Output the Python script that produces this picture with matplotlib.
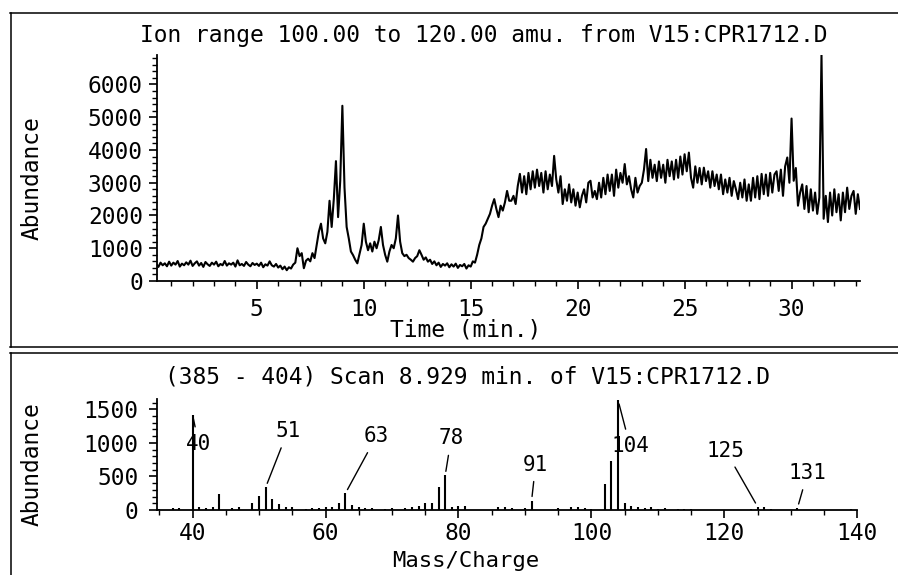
import numpy as np
import matplotlib
matplotlib.use("Agg")
import matplotlib.pyplot as plt
from matplotlib.lines import Line2D
from matplotlib.ticker import MultipleLocator

# ---------------- data ----------------
# Total ion chromatogram (ion range 100-120 amu), sampled every 0.1 min from 0.3 to 33.2 min
tic_time = np.arange(3, 333) / 10.0
tic_abundance = [
    520, 430, 560, 480, 540, 450, 590,
    470, 560, 500, 610, 440, 530, 480, 570, 500, 620,
    460, 540, 600, 470, 550, 430, 580, 510, 460, 560,
    500, 590, 450, 520, 480, 610, 470, 540, 500, 560,
    440, 630, 480, 520, 460, 580, 500, 450, 550, 490,
    530, 460, 560, 420, 510, 470, 600, 480, 440, 520,
    410, 470, 360, 440, 330, 420, 380, 500, 560, 1000,
    760, 850, 390, 620, 680, 600, 850, 700, 1100, 1500,
    1750, 1300, 1150, 1500, 2450, 1650, 2500, 3660, 1950, 3060,
    5350, 2850, 1650, 1300, 900, 790, 650, 540, 820, 1100,
    1750, 1200, 940, 1150, 900, 1200, 1000, 1250, 1650, 1100,
    800, 590, 900, 1100, 1000, 1300, 2000, 1200, 850, 760,
    800, 700, 650, 590, 700, 760, 940, 800, 650, 720,
    590, 650, 520, 600, 480, 560, 430, 520, 470, 540,
    420, 510, 440, 530, 400, 490, 450, 520, 380, 480,
    440, 600, 560, 800, 1100, 1300, 1650, 1750, 1900, 2050,
    2300, 2500, 2200, 1950, 2300, 2150, 2400, 2750, 2450, 2450,
    2600, 2350, 2900, 3270, 2700, 3200, 2650, 3300, 2800, 3350,
    2850, 3400, 2900, 3300, 2700, 3350, 2800, 3250, 2900, 3820,
    3100, 2700, 3200, 2350, 2800, 2450, 2950, 2400, 2800, 2300,
    2700, 2250, 2600, 2800, 2400, 3000, 3060, 2550, 2750, 2500,
    3000, 2550, 3150, 2650, 3250, 2750, 3250, 2600, 3400, 2850,
    3300, 3000, 3570, 2950, 3200, 2800, 2550, 3150, 2700, 2900,
    3000, 3400, 4030, 3050, 3700, 3150, 3550, 3050, 3650, 3150,
    3550, 3000, 3700, 3200, 3650, 3100, 3700, 3150, 3800, 3250,
    3870, 3350, 3920, 3150, 2850, 3500, 3000, 3450, 2950, 3460,
    3050, 3350, 2850, 3350, 2900, 3250, 2800, 3250, 2650, 3100,
    2700, 3150, 2600, 3050, 2800, 2500, 3000, 2550, 3100, 2450,
    2950, 2450, 3150, 2550, 3200, 2500, 3270, 2650, 3250, 2600,
    3300, 2700, 3250, 3350, 2750, 3400, 2600, 3500, 3770, 3000,
    4960, 3060, 3450, 2300, 2700, 2950, 2200, 2900, 2100, 2800,
    2150, 2700, 2050, 2550, 6900, 1900, 2600, 1800, 2700, 2000,
    2800, 2100, 2650, 1850, 2700, 2100, 2850, 2200, 2600, 2750,
    2050, 2650, 2200,
]

# Mass spectrum, scans 385-404 at 8.929 min
ms_mass = [35, 37, 38, 40, 41, 42, 43, 44, 46, 47, 49, 50, 51, 52, 53, 54, 55,
           57, 58, 59, 60, 61, 62, 63, 64, 65, 66, 67, 69, 70, 72, 73, 74, 75,
           76, 77, 78, 79, 80, 81, 86, 87, 88, 90, 91, 95, 97, 98, 99, 100,
           102, 103, 104, 105, 106, 107, 108, 109, 110, 111, 113, 114, 115,
           124, 125, 126, 127, 131, 139]
ms_abundance = [20, 30, 25, 1420, 40, 30, 50, 240, 30, 40, 110, 210, 340, 170, 90, 40, 40,
                20, 30, 30, 40, 50, 100, 250, 80, 40, 30, 30, 20, 30, 30, 40, 60, 100,
                110, 350, 515, 50, 60, 60, 40, 40, 30, 30, 140, 30, 40, 40, 30, 20,
                385, 735, 1640, 110, 60, 40, 30, 40, 20, 30, 15, 15, 20,
                20, 50, 40, 20, 30, 15]

peak_labels = [40, 51, 63, 78, 91, 104, 125, 131]
# label offsets from bar tops, in pixels (style only)
label_offsets = [(6, -29), (22, 56), (31, 57), (6, 37), (4, 36), (12, -46), (-32, 56), (10, 35)]

top_title = "Ion range 100.00 to 120.00 amu. from V15:CPR1712.D"
bottom_title = "(385 - 404) Scan 8.929 min. of V15:CPR1712.D"

# ---------------- figure ----------------
W, H = 898, 575
fig = plt.figure(figsize=(W / 100, H / 100), dpi=100)
plt.rcParams['font.family'] = ['DejaVu Sans Mono']
FS = 16.5


def fx(px):
    return px / W


def fy(py):
    return 1 - py / H


# panel borders
for (x0, y0, x1, y1) in [(10, 13, 898, 13), (11, 13, 11, 347), (10, 347, 898, 347),
                         (10, 353, 898, 353), (11, 353, 11, 575)]:
    fig.add_artist(Line2D([fx(x0), fx(x1)], [fy(y0), fy(y1)], color='black', lw=1.1))

# ---- top: chromatogram ----
ax1 = fig.add_axes([fx(156.7), fy(281), fx(860) - fx(156.7), fy(55) - fy(281)])
ax1.plot(tic_time, tic_abundance, color='black', lw=1.5)
ax1.set_xlim(0.32, 33.2)
ax1.set_ylim(0, 6900)
ax1.xaxis.set_major_locator(MultipleLocator(5))
ax1.xaxis.set_minor_locator(MultipleLocator(1))
ax1.yaxis.set_major_locator(MultipleLocator(1000))
ax1.yaxis.set_minor_locator(MultipleLocator(200))
ax1.set_xticks([5, 10, 15, 20, 25, 30])
for s in ['top', 'right']:
    ax1.spines[s].set_visible(False)
for s in ['left', 'bottom']:
    ax1.spines[s].set_linewidth(1.3)
ax1.tick_params(axis='both', which='major', direction='out', length=6, width=1.2,
                labelsize=FS)
ax1.tick_params(axis='both', which='minor', direction='out', length=3.5, width=1.0)
ax1.tick_params(axis='x', which='major', pad=6)
ax1.tick_params(axis='y', which='major', pad=4)

fig.text(fx(484), fy(35.5), top_title, ha='center', va='center', fontsize=FS)
fig.text(fx(466), fy(330), "Time (min.)", ha='center', va='center', fontsize=FS)
fig.text(fx(32), fy(178), "Abundance", ha='center', va='center', rotation=90, fontsize=FS)

# ---- bottom: mass spectrum ----
ax2 = fig.add_axes([fx(156.7), fy(510), fx(857.3) - fx(156.7), fy(399.3) - fy(510)])
ax2.vlines(ms_mass, 0, ms_abundance, color='black', lw=1.5)
ax2.set_xlim(34.6, 140)
ax2.set_ylim(0, 1650)
ax2.xaxis.set_major_locator(MultipleLocator(20))
ax2.xaxis.set_minor_locator(MultipleLocator(5))
ax2.yaxis.set_major_locator(MultipleLocator(500))
ax2.yaxis.set_minor_locator(MultipleLocator(100))
for s in ['top', 'right']:
    ax2.spines[s].set_visible(False)
for s in ['left', 'bottom']:
    ax2.spines[s].set_linewidth(1.3)
ax2.tick_params(axis='both', which='major', direction='out', length=6, width=1.2,
                labelsize=FS)
ax2.tick_params(axis='both', which='minor', direction='out', length=3.5, width=1.0)
ax2.tick_params(axis='x', which='major', pad=3)
ax2.tick_params(axis='y', which='major', pad=7)

ab_lookup = dict(zip(ms_mass, ms_abundance))
for m, (dx, dy) in zip(peak_labels, label_offsets):
    ax2.annotate(str(m), xy=(m, ab_lookup[m]), xytext=(dx, dy), textcoords='offset pixels',
                 ha='center', va='center', fontsize=FS - 1.5,
                 arrowprops=dict(arrowstyle='-', color='black', lw=1.0, shrinkA=3, shrinkB=3))

fig.text(fx(468), fy(377), bottom_title, ha='center', va='center', fontsize=FS)
fig.text(fx(466), fy(561), "Mass/Charge", ha='center', va='center', fontsize=FS - 0.5)
fig.text(fx(32), fy(464), "Abundance", ha='center', va='center', rotation=90, fontsize=FS)

fig.savefig("out.png", dpi=100)
